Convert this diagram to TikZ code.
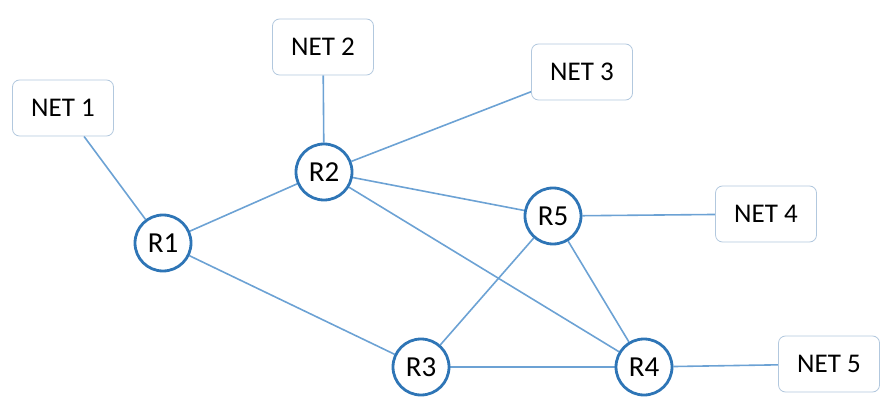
\documentclass[tikz,border=0pt]{standalone}
\usepackage{fontspec}
\setmainfont{Carlito}
\usetikzlibrary {backgrounds}
\definecolor{routerblue}{RGB}{46,117,182}
\definecolor{linkblue}{RGB}{108,162,212}
\definecolor{boxgray}{RGB}{178,200,222}

\begin{document}
\begin{tikzpicture}[x=1pt,y=-1pt,
    router/.style={circle,draw=routerblue,line width=2.8pt,fill=white,minimum size=56pt,inner sep=0pt,font=\fontsize{29}{32}\selectfont},
    netbox/.style={rectangle,rounded corners=7pt,draw=boxgray,line width=0.8pt,fill=white,minimum width=101pt,minimum height=56pt,font=\fontsize{27}{30}\selectfont},
    link/.style={linkblue,line width=1.6pt}]
    \useasboundingbox (0,0) rectangle (882,411);
    % routers
    \node[router] (r1) at (163,243) {R1};
    \node[router] (r2) at (324,172) {R2};
    \node[router] (r5) at (553,216) {R5};
    \node[router] (r3) at (421,367) {R3};
    \node[router] (r4) at (644,367) {R4};
    % networks
    \node[netbox] (n1) at (63,108) {NET 1};
    \node[netbox] (n2) at (323,47) {NET 2};
    \node[netbox] (n3) at (582,72) {NET 3};
    \node[netbox] (n4) at (766,214) {NET 4};
    \node[netbox] (n5) at (829,364) {NET 5};
    % links
    \begin{scope}[on background layer]
        \foreach \a/\b in {n1/r1,n2/r2,n3/r2,r1/r2,r1/r3,r2/r5,r2/r4,r5/n4,r5/r3,r5/r4,r3/r4,r4/n5}{
            \draw[link] (\a) -- (\b);
        }
    \end{scope}
\end{tikzpicture}
\end{document}
